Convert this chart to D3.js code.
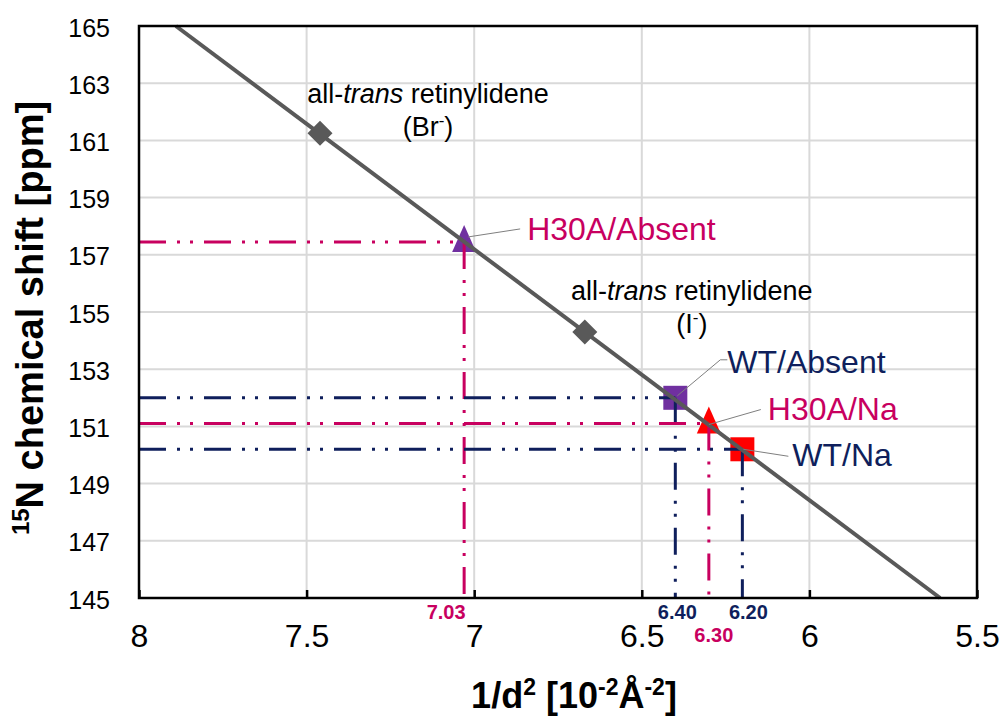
<!DOCTYPE html>
<html>
<head>
<meta charset="utf-8">
<script src="https://cdn.jsdelivr.net/npm/d3@7"></script>
<style>
  body { margin: 0; background: #fff; }
  text { font-family: Arial, "Liberation Sans", sans-serif; }
</style>
</head>
<body>
<div id="chart"></div>
<script>
// data
const xTicks = [8, 7.5, 7, 6.5, 6, 5.5]
const yTicks = [145, 147, 149, 151, 153, 155, 157, 159, 161, 163, 165]

// end points of the fitted line (1/d2, shift)
const fitX = [7.89, 5.61]
const fitY = [165, 145]

// all-trans retinylidene references
const refNames = ["Br", "I"]
const refX = [7.46, 6.67]
const refY = [161.25, 154.3]

// samples
const sampleNames = ["H30A/Absent", "WT/Absent", "H30A/Na", "WT/Na"]
const sampleX = [7.03, 6.40, 6.30, 6.20]
const sampleY = [157.45, 152.0, 151.1, 150.2]
const sampleXLabels = ["7.03", "6.40", "6.30", "6.20"]

// styles
const crimson = "#c8005f", navy = "#0f1f5c", purple = "#7030a0", red = "#ff0000"
const sampleShape = ["triangle", "square", "triangle", "square"]
const sampleFill = [purple, purple, red, red]
const dropColor = [crimson, navy, crimson, navy]

const margin = { left: 139, right: 26, top: 26, bottom: 118 }
const W = 1003, H = 716
const width = W - margin.left - margin.right
const height = H - margin.top - margin.bottom

const svg = d3.select("#chart").append("svg")
    .attr("width", W)
    .attr("height", H)

const g = svg.append("g")
    .attr("transform", "translate(" + margin.left + "," + margin.top + ")")

const x = d3.scaleLinear().domain([8, 5.5]).range([0, width])
const y = d3.scaleLinear().domain([145, 165]).range([height, 0])

// gridlines
g.selectAll(".hgrid").data(yTicks).enter().append("line")
    .attr("x1", 0).attr("x2", width)
    .attr("y1", d => y(d)).attr("y2", d => y(d))
    .attr("stroke", "#d9d9d9").attr("stroke-width", 2)
g.selectAll(".vgrid").data(xTicks.slice(1, -1)).enter().append("line")
    .attr("x1", d => x(d)).attr("x2", d => x(d))
    .attr("y1", 0).attr("y2", height)
    .attr("stroke", "#d9d9d9").attr("stroke-width", 2)

// y axis labels
const yAxis = g.append("g")
    .call(d3.axisLeft(y).tickValues(yTicks).tickSize(0).tickPadding(29))
yAxis.select(".domain").remove()
yAxis.selectAll("text").attr("font-size", "25px").attr("fill", "#000")
    .attr("font-family", "Arial, 'Liberation Sans', sans-serif")
    .attr("dy", "0.4em")

// x axis
const xAxis = g.append("g")
    .attr("transform", "translate(0," + height + ")")
    .call(d3.axisBottom(x).tickValues(xTicks).tickSize(-8).tickPadding(26).tickFormat(d3.format("")))
xAxis.select(".domain").remove()
xAxis.selectAll("line").attr("stroke", "#000").attr("stroke-width", 2.5)
xAxis.selectAll("text").attr("font-size", "32px").attr("fill", "#000")
    .attr("font-family", "Arial, 'Liberation Sans', sans-serif")

// markers behind the drop lines
const sq = 24
sampleNames.forEach((name, i) => {
    const cx = x(sampleX[i]), cy = y(sampleY[i])
    if (sampleShape[i] == "square") {
        g.append("rect")
            .attr("x", cx - sq / 2).attr("y", cy - sq / 2)
            .attr("width", sq).attr("height", sq)
            .attr("fill", sampleFill[i])
    } else {
        g.append("path")
            .attr("d", "M" + cx + "," + (cy - 17) + "L" + (cx + 12) + "," + (cy + 10) + "L" + (cx - 12) + "," + (cy + 10) + "Z")
            .attr("fill", sampleFill[i])
    }
})

// drop lines
const dash = "27,11,3,10,3,11"
sampleNames.forEach((name, i) => {
    const cx = x(sampleX[i]), cy = y(sampleY[i])
    g.append("line")
        .attr("x1", 0).attr("x2", cx).attr("y1", cy).attr("y2", cy)
        .attr("stroke", dropColor[i]).attr("stroke-width", 3)
        .attr("stroke-dasharray", dash)
    g.append("line")
        .attr("x1", cx).attr("x2", cx).attr("y1", cy).attr("y2", height)
        .attr("stroke", dropColor[i]).attr("stroke-width", 3)
        .attr("stroke-dasharray", dash)
})

// fitted line
const line = d3.line().x(d => x(d[0])).y(d => y(d[1]))
g.append("path")
    .datum(fitX.map((d, i) => [d, fitY[i]]))
    .attr("d", line)
    .attr("fill", "none")
    .attr("stroke", "#595959")
    .attr("stroke-width", 4)

// reference diamonds
g.selectAll(".ref").data(refX).enter().append("path")
    .attr("d", (d, i) => {
        const cx = x(d), cy = y(refY[i]), r = 12.5
        return "M" + cx + "," + (cy - r) + "L" + (cx + r) + "," + cy + "L" + cx + "," + (cy + r) + "L" + (cx - r) + "," + cy + "Z"
    })
    .attr("fill", "#595959")

// reference labels
const refLabelOffset = [[108, -30], [107, -32]]
refNames.forEach((name, i) => {
    const cx = x(refX[i]) + refLabelOffset[i][0], cy = y(refY[i]) + refLabelOffset[i][1]
    const t = g.append("text").attr("x", cx).attr("y", cy)
        .attr("text-anchor", "middle").attr("font-size", "27px").attr("fill", "#000")
    t.append("tspan").text("all-")
    t.append("tspan").attr("font-style", "italic").text("trans")
    t.append("tspan").text(" retinylidene")
    const t2 = g.append("text").attr("x", cx).attr("y", cy + 33)
        .attr("text-anchor", "middle").attr("font-size", "27px").attr("fill", "#000")
    t2.append("tspan").text("(" + name)
    t2.append("tspan").attr("font-size", "17px").attr("dy", "-10").text("-")
    t2.append("tspan").attr("dy", "10").text(")")
})

// sample labels with leader lines
const labelColor = [crimson, navy, crimson, navy]
const labelPos = [[63, -2], [52, -25], [59, -4], [50, 17]]
const leaderPts = [
    [[4, -5], [56, -13]],
    [[2, -2], [45, -38], [52, -38]],
    [[0, 1], [52, -14]],
    [[1, 0], [46, 7]]
]
sampleNames.forEach((name, i) => {
    const cx = x(sampleX[i]), cy = y(sampleY[i])
    g.append("path")
        .attr("d", d3.line()(leaderPts[i].map(p => [cx + p[0], cy + p[1]])))
        .attr("fill", "none").attr("stroke", "#7f7f7f").attr("stroke-width", 1)
    g.append("text")
        .attr("x", cx + labelPos[i][0]).attr("y", cy + labelPos[i][1])
        .attr("font-size", "32px").attr("fill", labelColor[i])
        .text(name)
})

// value labels under the drop lines
const valueDx = [-18, 2, 5, 6]
const valueDy = [21, 21, 44, 21]
sampleNames.forEach((name, i) => {
    g.append("text")
        .attr("x", x(sampleX[i]) + valueDx[i]).attr("y", height + valueDy[i])
        .attr("text-anchor", "middle")
        .attr("font-size", "20px").attr("font-weight", "bold")
        .attr("fill", dropColor[i])
        .text(sampleXLabels[i])
})

// plot border
g.append("rect")
    .attr("x", 0).attr("y", 0).attr("width", width).attr("height", height)
    .attr("fill", "none").attr("stroke", "#000").attr("stroke-width", 2.5)

// axis titles
const xt = svg.append("text")
    .attr("x", margin.left + 435).attr("y", 708)
    .attr("text-anchor", "middle").attr("font-size", "36px").attr("font-weight", "bold")
xt.append("tspan").text("1/d")
xt.append("tspan").attr("font-size", "23px").attr("dy", "-13").text("2")
xt.append("tspan").attr("dy", "13").text(" [10")
xt.append("tspan").attr("font-size", "23px").attr("dy", "-13").text("-2")
xt.append("tspan").attr("dy", "13").text("Å")
xt.append("tspan").attr("font-size", "23px").attr("dy", "-13").text("-2")
xt.append("tspan").attr("dy", "13").text("]")

const yt = svg.append("text")
    .attr("transform", "translate(43," + 318 + ") rotate(-90)")
    .attr("text-anchor", "middle").attr("font-size", "38px").attr("font-weight", "bold")
yt.append("tspan").attr("font-size", "24px").attr("dy", "-14").text("15")
yt.append("tspan").attr("dy", "14").text("N chemical shift [ppm]")
</script>
</body>
</html>
